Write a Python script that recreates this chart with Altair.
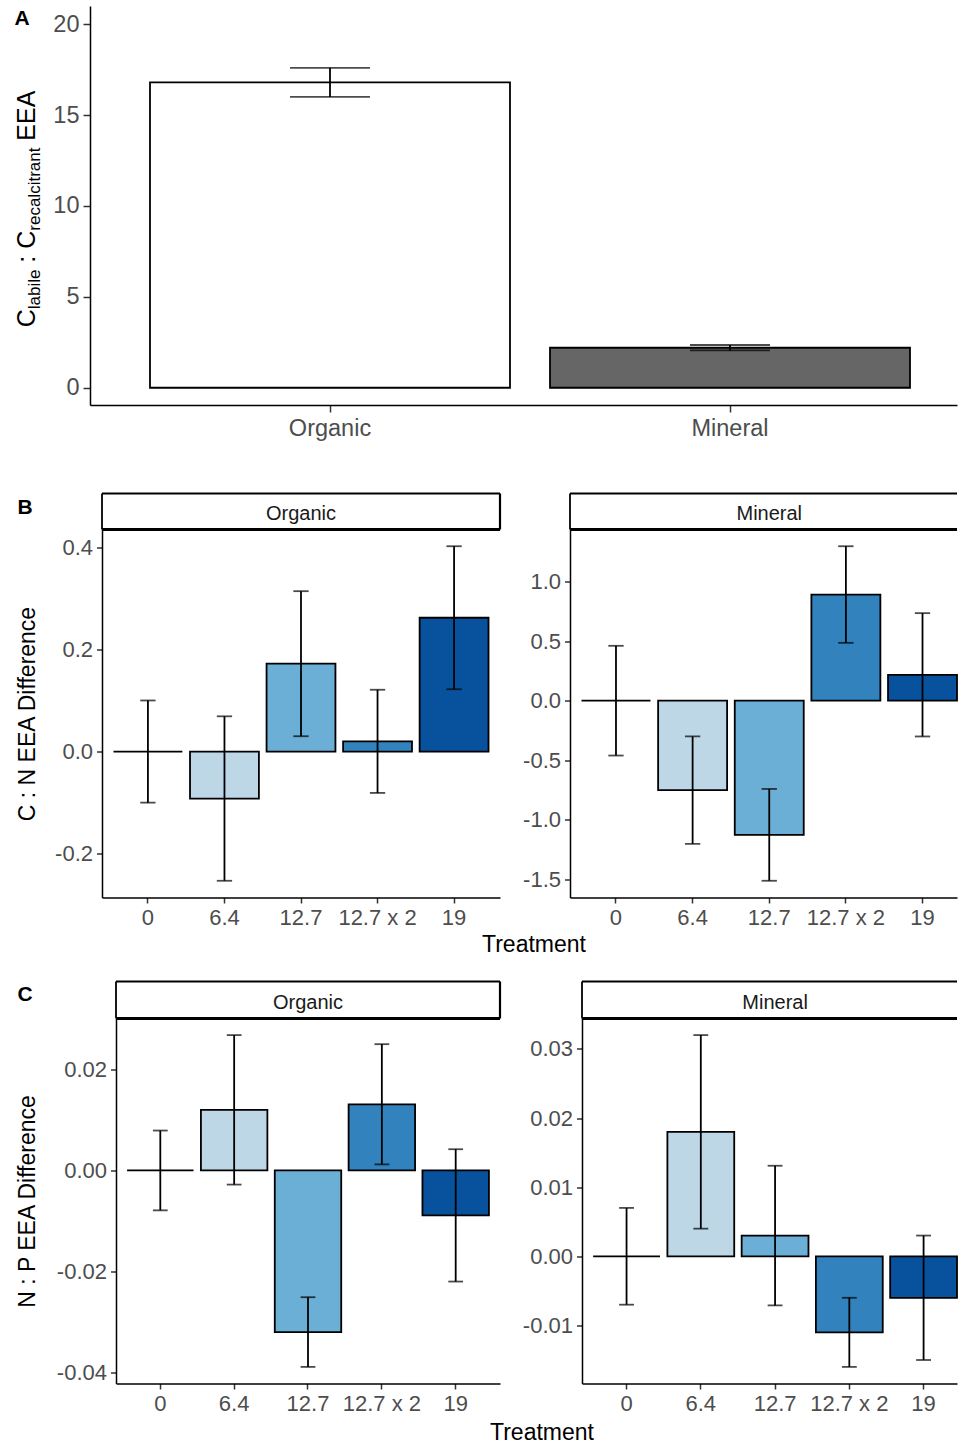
import altair as alt
import pandas as pd

# ---------------- data ----------------
soils = ["Organic", "Mineral"]
a_mean = [16.8, 2.2]
a_se = [0.8, 0.15]
a_domain = [-0.95, 21.0]
a_ticks = [0, 5, 10, 15, 20]

treatments = ["0", "6.4", "12.7", "12.7 x 2", "19"]

cn_org_mean = [0.0, -0.092, 0.172, 0.020, 0.262]
cn_org_se = [0.100, 0.161, 0.142, 0.101, 0.140]
cn_min_mean = [0.0, -0.750, -1.125, 0.890, 0.217]
cn_min_se = [0.460, 0.450, 0.385, 0.405, 0.517]
cn_org_ticks = [-0.2, 0.0, 0.2, 0.4]
cn_min_ticks = [-1.5, -1.0, -0.5, 0.0, 0.5, 1.0]

np_org_mean = [0.0, 0.012, -0.032, 0.0131, -0.0089]
np_org_se = [0.0079, 0.0148, 0.0069, 0.0119, 0.0131]
np_min_mean = [0.0, 0.018, 0.003, -0.011, -0.006]
np_min_se = [0.007, 0.014, 0.0101, 0.005, 0.009]
np_org_ticks = [-0.04, -0.02, 0.00, 0.02]
np_min_ticks = [-0.01, 0.00, 0.01, 0.02, 0.03]

# ---------------- styles ----------------
FONT = "Liberation Sans"
BLUES = ["#eff3ff", "#bdd7e7", "#6baed6", "#3182bd", "#08519c"]
SOIL_FILL = ["white", "#666666"]
LABEL_COL = "#4d4d4d"
RIGHT = 957
BAR_SW = 1.8
ERR_SW = 1.8


def gg_domain(lo, hi):
    mn = min(min(lo), 0)
    mx = max(max(hi), 0)
    span = mx - mn
    return [mn - 0.05 * span, mx + 0.05 * span]


def minus_fix(fmt):
    return "replace(format(datum.value, '%s'), '\u2212', '-')" % fmt


def x_axis(size, pad, tick):
    return alt.Axis(title=None, labelFont=FONT, labelFontSize=size, labelColor=LABEL_COL,
                    labelAngle=0, labelPadding=pad, tickSize=tick, tickWidth=1.5,
                    tickColor="#333333", domainColor="black", domainWidth=1.5,
                    grid=False, labelOverlap=False)


def y_axis(vals, fmt, size, tick, title=None, title_x=0, height=100):
    kw = dict(values=vals, labelExpr=minus_fix(fmt), labelFont=FONT, labelFontSize=size,
              labelColor=LABEL_COL, labelPadding=4, tickSize=tick, tickWidth=1.5,
              tickColor="#333333", domainColor="black", domainWidth=1.5, grid=False)
    if title:
        kw.update(title=title, titleFont=FONT, titleFontSize=23, titleFontWeight="normal",
                  titleColor="black", titleX=title_x, titleY=height / 2, titleAngle=270,
                  titleAlign="center", titleBaseline="alphabetic")
    else:
        kw.update(title=None)
    return alt.Axis(**kw)


def text_layer(df, txt, x, y, size, weight="normal", color="black", align="center",
               baseline="middle", angle=0):
    return alt.Chart(df).mark_text(text=txt, font=FONT, fontSize=size, fontWeight=weight,
                                   color=color, align=align, baseline=baseline,
                                   angle=angle).encode(x=alt.value(x), y=alt.value(y))


def hline(df, x1, x2, y, sw):
    return alt.Chart(df).mark_rule(color="black", strokeWidth=sw).encode(
        x=alt.value(x1), x2=alt.value(x2), y=alt.value(y))


def vline(df, x, y1, y2, sw):
    return alt.Chart(df).mark_rule(color="black", strokeWidth=sw).encode(
        x=alt.value(x), y=alt.value(y1), y2=alt.value(y2))


def diff_panel(means, ses, soil, width, height, po, align, ticks, fmt, cap,
               ytitle=None, title_x=0, strip_h=35, strip_x=None, right_border=True, extras=()):
    df = pd.DataFrame({"Treatment": treatments, "mean": means,
                       "lo": [m - s for m, s in zip(means, ses)],
                       "hi": [m + s for m, s in zip(means, ses)]})
    dom = gg_domain(df["lo"], df["hi"])
    base = alt.Chart(df)
    xs = alt.Scale(paddingInner=0.1, paddingOuter=po, align=align)
    ys = alt.Scale(domain=dom, nice=False)
    x = alt.X("Treatment:N", sort=treatments, scale=xs, axis=x_axis(22, 4, 5.5))
    xn = alt.X("Treatment:N", sort=treatments, scale=xs)
    bars = base.mark_bar(stroke="black", strokeWidth=BAR_SW).encode(
        x=x,
        y=alt.Y("mean:Q", scale=ys,
                axis=y_axis(ticks, fmt, 22, 5.5, ytitle, title_x, height)),
        y2=alt.Y2(datum=0),
        fill=alt.Fill("Treatment:N", sort=treatments,
                      scale=alt.Scale(domain=treatments, range=BLUES), legend=None))
    err = base.mark_rule(color="black", strokeWidth=ERR_SW).encode(
        x=xn, y=alt.Y("lo:Q", scale=ys), y2="hi:Q")
    cap_lo = base.mark_tick(orient="horizontal", size=cap, thickness=ERR_SW, color="black").encode(
        x=xn, y=alt.Y("lo:Q", scale=ys))
    cap_hi = base.mark_tick(orient="horizontal", size=cap, thickness=ERR_SW, color="black").encode(
        x=xn, y=alt.Y("hi:Q", scale=ys))
    sdf = pd.DataFrame({"soil": [soil]})
    strip = [
        alt.Chart(sdf).mark_rect(fill="white", strokeWidth=0).encode(
            x=alt.value(0), x2=alt.value(width), y=alt.value(-strip_h), y2=alt.value(0)),
        hline(sdf, 0, width, -strip_h, 1.8),
        vline(sdf, 0, -strip_h, 0, 1.8),
        hline(sdf, 0, width, 0, 3.2),
    ]
    if right_border:
        strip.append(vline(sdf, width, -strip_h, 0, 2.2))
    strip_txt = alt.Chart(sdf).mark_text(font=FONT, fontSize=20, color="#1a1a1a",
                                         baseline="middle").encode(
        x=alt.value(strip_x if strip_x is not None else width / 2),
        y=alt.value(-strip_h / 2 + 2.5), text="soil:N")
    return alt.layer(bars, err, cap_lo, cap_hi, *strip, strip_txt,
                     *extras).properties(width=width, height=height)


def spacer(w, h=10):
    d = pd.DataFrame({"v": [0]})
    return alt.Chart(d).mark_point(opacity=0, size=1).encode(
        x=alt.X("v:Q", axis=None), y=alt.Y("v:Q", axis=None)).properties(width=w, height=h)


one = pd.DataFrame({"k": [0]})

# ---------------- layout (page pixels) ----------------
A_TOP, A_H = 6, 399
B_TOP, B_H = 529.5, 368
C_TOP, C_H = 1018, 365

# ---------------- Panel A ----------------
A_W = RIGHT - 90
a_df = pd.DataFrame({"Soil": soils, "mean": a_mean,
                     "lo": [m - s for m, s in zip(a_mean, a_se)],
                     "hi": [m + s for m, s in zip(a_mean, a_se)]})
a_step = 400.0
a_po2 = A_W / a_step - 1.9
a_xs = alt.Scale(paddingInner=0.1, paddingOuter=a_po2 / 2, align=0.15 / a_po2)
a_ys = alt.Scale(domain=a_domain, nice=False)
a_base = alt.Chart(a_df)
a_bars = a_base.mark_bar(stroke="black", strokeWidth=BAR_SW).encode(
    x=alt.X("Soil:N", sort=soils, scale=a_xs, axis=x_axis(23.5, 4, 7)),
    y=alt.Y("mean:Q", scale=a_ys, axis=y_axis(a_ticks, "d", 23.5, 7)),
    y2=alt.Y2(datum=0),
    fill=alt.Fill("Soil:N", scale=alt.Scale(domain=soils, range=SOIL_FILL), legend=None))
a_xn = alt.X("Soil:N", sort=soils, scale=a_xs)
a_err = a_base.mark_rule(color="black", strokeWidth=ERR_SW).encode(
    x=a_xn, y=alt.Y("lo:Q", scale=a_ys), y2="hi:Q")
a_cap_lo = a_base.mark_tick(orient="horizontal", size=80, thickness=ERR_SW, color="black").encode(
    x=a_xn, y=alt.Y("lo:Q", scale=a_ys))
a_cap_hi = a_base.mark_tick(orient="horizontal", size=80, thickness=ERR_SW, color="black").encode(
    x=a_xn, y=alt.Y("hi:Q", scale=a_ys))

# y title with subscripts, built piecewise (bottom to top)
MAIN, SUB = 25, 17
pieces = [("C", MAIN, 0.722, 0.0), ("labile", SUB, 2.334, 0.0), (":", MAIN, 0.278, 0.278),
          ("C", MAIN, 0.722, 0.278), ("recalcitrant", SUB, 4.890, 0.0), ("EEA", MAIN, 2.001, 0.278)]
total = sum(sz * (w + g) for _, sz, w, g in pieces) + MAIN * 0.278
start = A_H / 2 + total / 2
title_layers = []
pos = 0.0
for txt, sz, w, gap in pieces:
    pos += sz * gap if txt != ":" else MAIN * 0.278
    xb = -55 if sz == MAIN else -50
    title_layers.append(text_layer(one, txt, xb, start - pos, sz, align="left",
                                   baseline="alphabetic", angle=270))
    pos += sz * w
anchor = alt.Chart(one).mark_rule(strokeOpacity=0, strokeWidth=0).encode(
    x=alt.value(-90), x2=alt.value(-90), y=alt.value(-A_TOP), y2=alt.value(-A_TOP + 1))
a_label = text_layer(one, "A", -68, 19 - A_TOP, 21, weight="bold")

panel_a = alt.layer(a_bars, a_err, a_cap_lo, a_cap_hi, anchor, a_label,
                    *title_layers).properties(width=A_W, height=A_H)

# ---------------- Panel B ----------------
bo_w = 398
bm_w = RIGHT - 570
bo_s = bo_w / 5.2
bm_s = bm_w / 5.05
b_org = diff_panel(cn_org_mean, cn_org_se, "Organic", bo_w, B_H, 0.15, 0.5, cn_org_ticks, ".1f",
                   0.2 * bo_s, ytitle="C : N EEA Difference", title_x=34.5 - 102, strip_h=36,
                   extras=[text_layer(one, "B", -77, 508 - B_TOP, 21, weight="bold"),
                           text_layer(one, "Treatment", 432, 945 - B_TOP, 23)])
b_min = diff_panel(cn_min_mean, cn_min_se, "Mineral", bm_w, B_H, 0.075, 1.0, cn_min_ticks, ".1f",
                   0.2 * bm_s, strip_h=36, strip_x=2.6 * bm_s, right_border=False)
row_b = alt.hconcat(spacer(12), alt.hconcat(b_org, b_min, spacing=70, bounds="flush"),
                    spacing=0, bounds="flush")

# ---------------- Panel C ----------------
co_w = 384
cm_w = RIGHT - 582
co_s = co_w / 5.2
cm_s = cm_w / 5.05
c_org = diff_panel(np_org_mean, np_org_se, "Organic", co_w, C_H, 0.15, 0.5, np_org_ticks, ".2f",
                   0.2 * co_s, ytitle="N : P EEA Difference", title_x=34.5 - 116, strip_h=37,
                   extras=[text_layer(one, "C", -91, 994 - C_TOP, 21, weight="bold"),
                           text_layer(one, "Treatment", 426, 1432 - C_TOP, 23)])
c_min = diff_panel(np_min_mean, np_min_se, "Mineral", cm_w, C_H, 0.075, 1.0, np_min_ticks, ".2f",
                   0.2 * cm_s, strip_h=37, strip_x=2.6 * cm_s, right_border=False)
row_c = alt.hconcat(spacer(26), alt.hconcat(c_org, c_min, spacing=82, bounds="flush"),
                    spacing=0, bounds="flush")

# rows B and C are nested groups (zero flush size), so a spacer row sets C's offset
GAP = B_TOP - A_TOP - A_H
mid_h = (C_TOP - A_TOP) - (A_H + 3 * GAP)
mid_spacer = spacer(0, mid_h)

chart = alt.vconcat(panel_a, row_b, mid_spacer, row_c, spacing=GAP, bounds="flush").resolve_scale(
    fill="independent").properties(padding=0).configure(font=FONT).configure_view(
    strokeWidth=0, stroke="white")

chart.save("out.html", embed_options={"renderer": "svg", "actions": False})
